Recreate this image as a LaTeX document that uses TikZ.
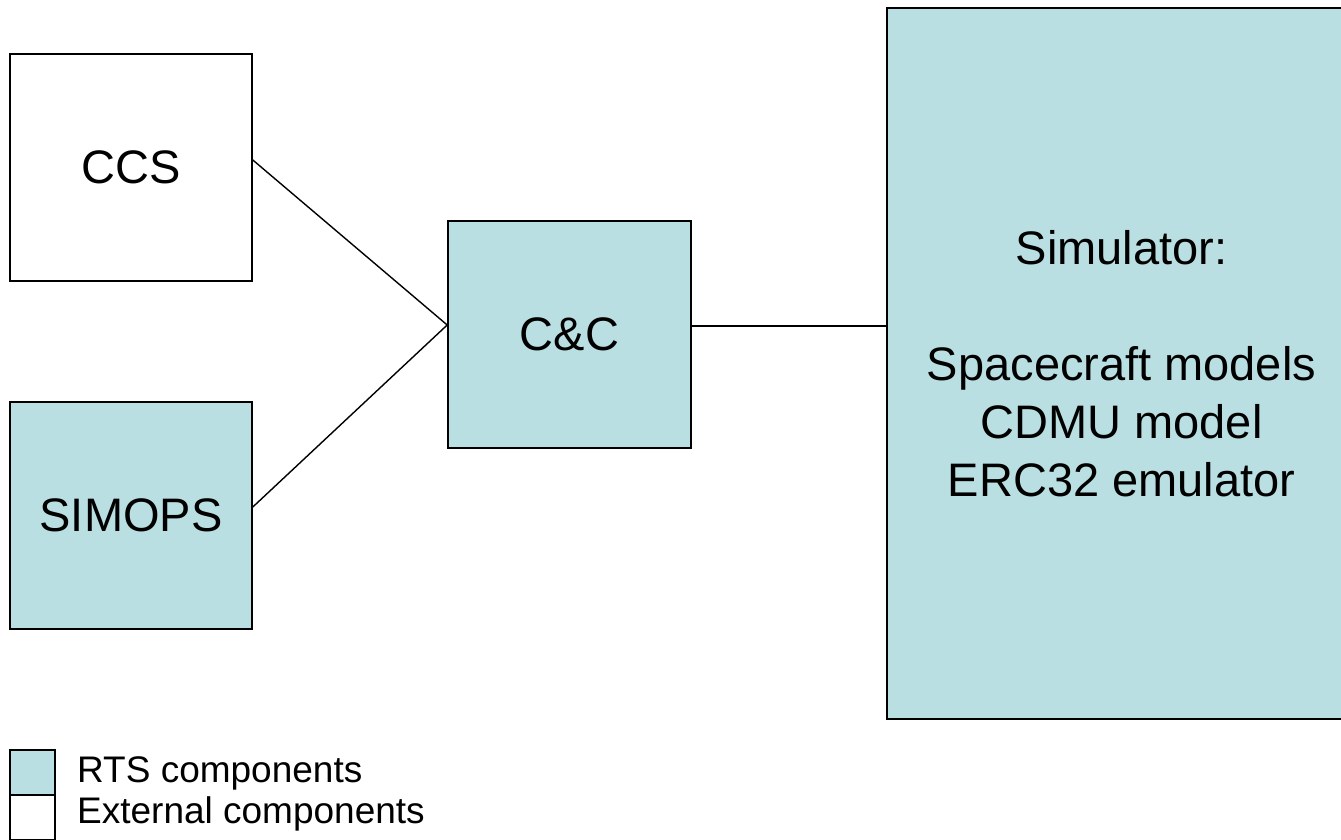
\documentclass[tikz,border=0pt]{standalone}
\usepackage{fontspec}
\setmainfont{Liberation Sans}
\definecolor{rtsfill}{RGB}{185,223,226}
\begin{document}
\begin{tikzpicture}[x=1pt,y=1pt,
  block/.style={draw=black,line width=1.6pt,rectangle,inner sep=0pt,
    font=\fontsize{47}{58}\selectfont,align=center},
  rts/.style={block,fill=rtsfill},
  ext/.style={block,fill=white},
  link/.style={draw=black,line width=1.4pt},
  legendbox/.style={draw=black,line width=1.6pt,rectangle,inner sep=0pt,
    minimum width=45pt,minimum height=45pt},
  legendtext/.style={anchor=base west,inner sep=0pt,font=\fontsize{37}{41}\selectfont}]
\clip (0,0) rectangle (1341,839);
\fill[white] (0,0) rectangle (1341,839);

% component blocks
\node[ext,minimum width=242pt,minimum height=227pt] (ccs) at (131,671.5) {CCS};
\node[rts,minimum width=242pt,minimum height=227pt] (simops) at (131,323.5) {SIMOPS};
\node[rts,minimum width=243pt,minimum height=227pt] (cc) at (569.5,504.5) {C\&C};
\node[rts,minimum width=469pt,minimum height=711pt] (sim) at (1121.5,475.5)
  {Simulator:\\[58pt]Spacecraft models\\CDMU model\\ERC32 emulator};

% connections
\coordinate (hub) at ([yshift=9.5pt]cc.west);
\draw[link] ([yshift=7.5pt]ccs.east) -- (hub);
\draw[link] ([yshift=8.5pt]simops.east) -- (hub);
\coordinate (ccout) at ([yshift=8.5pt]cc.east);
\draw[link] (ccout) -- (ccout -| sim.west);

% legend
\node[legendbox,fill=rtsfill] (lrts) at (32.5,66.5) {};
\node[legendbox,fill=white] (lext) at (32.5,21.5) {};
\node[legendtext] (trts) at (77,57) {RTS components};
\node[legendtext] (text) at (77,16) {External components};
\end{tikzpicture}
\end{document}
